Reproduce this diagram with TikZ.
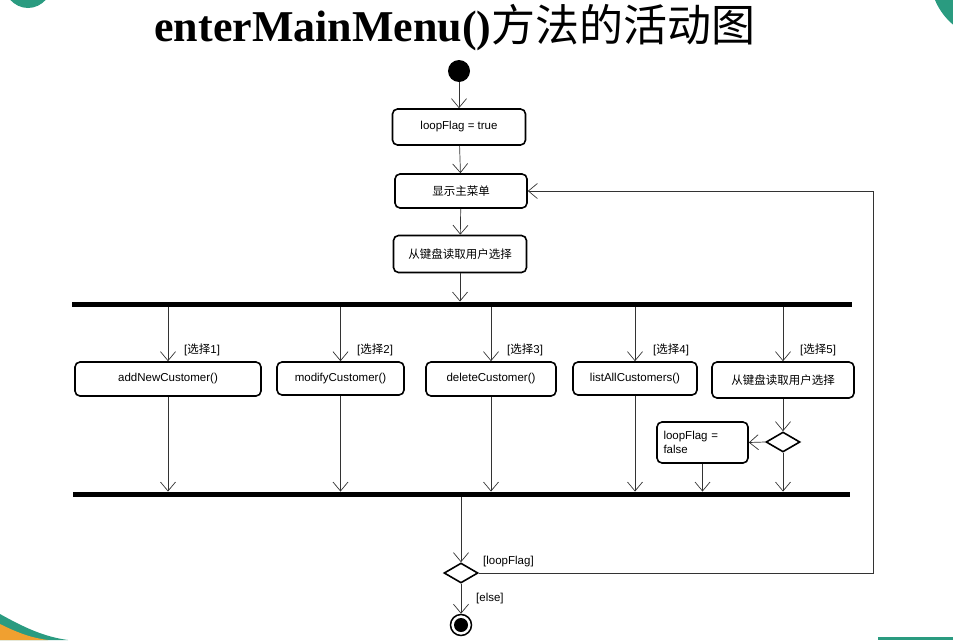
\documentclass[tikz,border=0pt]{standalone}
\usepackage{fontspec}
\setmainfont{Liberation Sans}
\newfontfamily\cjk{Noto Sans CJK SC}
\newfontfamily\titlefont{Liberation Serif}
\usetikzlibrary{arrows.meta,shapes.geometric}
\definecolor{teal1}{HTML}{2A9B80}
\definecolor{orange1}{HTML}{F0A030}
\begin{document}
\begin{tikzpicture}[x=1pt,y=-1pt,
  act/.style={draw, line width=1.6pt, rounded corners=5pt, inner sep=2pt, font=\fontsize{11.5}{13.5}\selectfont},
  bar/.style={fill=black, inner sep=0, minimum height=5.5pt},
  arr/.style={-{Straight Barb[length=9pt,width=15pt]}, line width=0.7pt, draw=black!80},
  dec/.style={draw, line width=1.6pt, diamond, aspect=1.7, inner sep=0, minimum width=34pt, minimum height=20pt},
  lbl/.style={font=\fontsize{11.5}{13.5}\selectfont, inner sep=0, anchor=west}]
\useasboundingbox (0,0) rectangle (953,640);
% corner decorations
\begin{scope}
\clip (0,0) rectangle (953,640);
\fill[teal1] (28,-22) ellipse (26pt and 30pt);
\fill[teal1] (995,-25) circle (65pt);
\fill[teal1] (0,614) .. controls (25,628) and (45,637) .. (68,640) -- (0,640) -- cycle;
\fill[orange1] (0,624) .. controls (18,633) and (32,638) .. (48,640) -- (0,640) -- cycle;
\fill[teal1] (878,637) rectangle (953,640);
\end{scope}
% title
\node[inner sep=0] (title) at (455,28) {\fontsize{44}{48}\selectfont\titlefont\bfseries enterMainMenu()\cjk\mdseries 方法的活动图};
% start
\node[circle, fill=black, minimum size=22pt, inner sep=0] (start) at (459,71) {};
\node[act, minimum width=133pt, minimum height=36pt] (init) at (459,127) {loopFlag = true};
\node[act, minimum width=132pt, minimum height=34pt] (menu) at (461,191) {\cjk 显示主菜单};
\node[act, minimum width=133pt, minimum height=37pt] (read) at (460,254) {\cjk 从键盘读取用户选择};
\node[bar, minimum width=780pt] (fork) at (462,304.5) {};
% branches
\node[act, minimum width=186pt, minimum height=34pt] (add) at (168,379) {addNewCustomer()};
\node[act, minimum width=127pt, minimum height=33pt] (mod) at (340.5,378.5) {modifyCustomer()};
\node[act, minimum width=130pt, minimum height=34pt] (del) at (491,379) {deleteCustomer()};
\node[act, minimum width=124pt, minimum height=33pt] (list) at (635,378.5) {listAllCustomers()};
\node[act, minimum width=142pt, minimum height=36pt] (read2) at (783,380) {\cjk 从键盘读取用户选择};
\node[dec] (d1) at (783,442) {};
\node[act, minimum width=91pt, minimum height=41pt, align=left, text width=78pt, inner sep=5pt] (false) at (702.5,442.5) {loopFlag =\\false};
\node[bar, minimum width=777pt] (join) at (461.5,494.5) {};
\node[dec] (d2) at (461,573) {};
\node[circle, draw, line width=1.5pt, minimum size=21pt, inner sep=0] (end) at (461,625) {};
\fill (end.center) circle (7pt);
\coordinate (loopc) at (873,400);
% connectors
\draw[arr] (start) -- (init);
\draw[arr] (init) -- (menu);
\draw[arr] (menu) -- (read);
\draw[arr] (read) -- (read |- fork.north);
\foreach \n in {add,mod,del,list,read2} {
  \draw[arr] (fork.south -| \n.north) -- (\n.north);
}
\foreach \n in {add,mod,del,list} {
  \draw[arr] (\n.south) -- (\n.south |- join.north);
}
\draw[arr] (read2) -- (d1.north);
\draw[arr] (d1.west) -- (false.east);
\draw[arr] (false.south) -- (false.south |- join.north);
\draw[arr] (d1.south) -- (d1.south |- join.north);
\draw[arr] (join.south -| d2.north) -- (d2.north);
\draw[arr] (d2.east) -| (loopc) |- (menu.east);
\draw[arr] (d2.south) -- (end.north);
% guards
\node[lbl] (g1) at (184,350) {[{\cjk 选择}1]};
\node[lbl] (g2) at (357,350) {[{\cjk 选择}2]};
\node[lbl] (g3) at (507,350) {[{\cjk 选择}3]};
\node[lbl] (g4) at (653,350) {[{\cjk 选择}4]};
\node[lbl] (g5) at (800,350) {[{\cjk 选择}5]};
\node[lbl] (gl) at (483,562) {[loopFlag]};
\node[lbl] (ge) at (476,599) {[else]};
\end{tikzpicture}
\end{document}
